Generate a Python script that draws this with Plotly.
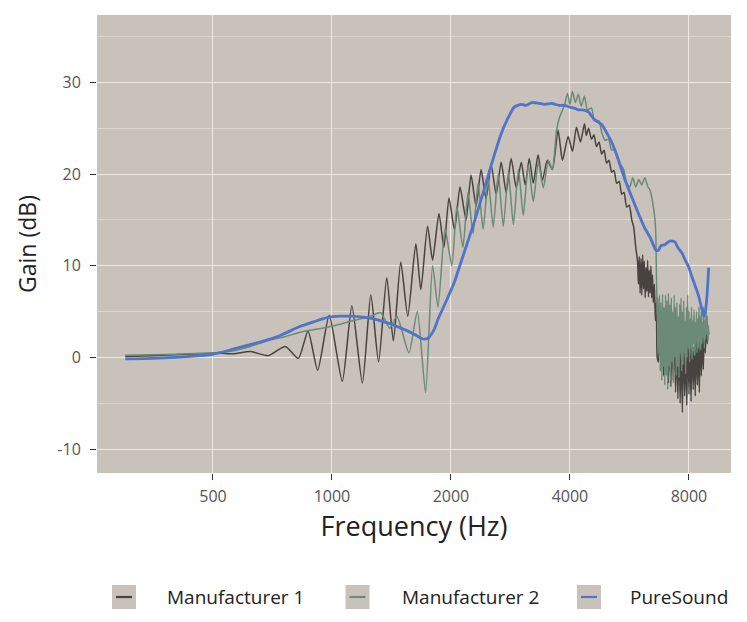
import plotly.graph_objects as go

# ---------------- data ----------------
m1_freq = [300, 350, 400, 463, 500, 562, 621, 690, 762, 822, 870, 920, 984, 1062, 1123, 1194,
           1254, 1312, 1376, 1430, 1493, 1555, 1630, 1678, 1745, 1797, 1865, 1920, 1977, 2042,
           2108, 2184, 2248, 2315, 2384, 2454, 2528, 2603, 2680, 2759, 2840, 2926, 3012, 3083,
           3156, 3231, 3322, 3406, 3507, 3611, 3733, 3829, 3958, 4059, 4155, 4254, 4353, 4400,
           4457, 4536, 4600, 4670, 4740, 4810, 4880, 4950, 5020, 5099, 5170, 5250, 5330, 5407,
           5480, 5567, 5650, 5734, 5800, 5870, 5930, 5960, 5990, 6020, 6050, 6080, 6110, 6140,
           6170, 6200, 6230, 6260, 6290, 6320, 6350, 6380, 6410, 6440, 6470, 6500, 6540, 6580,
           6620, 6650, 6700, 6750, 6800, 6850, 6900, 6950, 7000, 7050, 7100, 7150, 7200, 7250,
           7300, 7350, 7400, 7450, 7500, 7550, 7600, 7650, 7700, 7750, 7800, 7850, 7900, 7950,
           8000, 8050, 8100, 8150, 8200, 8250, 8300, 8350, 8400, 8450, 8500, 8550, 8600, 8650,
           8700, 8750, 8800, 8850, 8900, 8950, 8980]
m1_gain = [0.1, 0.2, 0.3, 0.4, 0.5, 0.4, 0.65, 0.2, 1.2, -0.1, 2.9, -1.4, 4.6, -2.6, 5.65, -2.8,
           6.85, -0.5, 8.7, 1.8, 10.4, 4.5, 12.4, 7.4, 14.3, 10.6, 15.7, 12.0, 17.4, 13.9,
           18.6, 15.0, 19.9, 16.5, 20.5, 17.3, 21.0, 17.8, 21.3, 18.0, 21.7, 18.5, 21.3, 18.8,
           21.7, 19.0, 22.1, 19.3, 21.5, 20.5, 24.8, 21.5, 24.1, 22.5, 25.1, 23.5, 25.5, 24.2,
           25.0, 23.8, 24.3, 23.0, 23.5, 22.2, 22.6, 21.2, 21.5, 20.2, 20.4, 19.0, 19.2, 17.8,
           18.0, 16.4, 16.6, 15.0, 14.2, 12.0, 10.5, 8.0, 11.0, 7.0, 10.8, 6.8, 11.2, 7.5,
           10.5, 6.5, 9.8, 7.2, 10.6, 6.6, 9.5, 7.0, 10.0, 6.5, 9.0, 6.0, 8.0, 4.0,
           6.0, 0.0, -0.5, 4.5, -1.0, 3.8, -2.0, 4.2, -1.5, 3.0, -2.8, 3.5, -3.2, 2.5,
           -2.5, 4.0, -3.8, 2.0, -4.5, 3.0, -5.0, 1.5, -6.0, 2.8, -4.2, 1.0, -5.2, 3.2,
           -4.0, 1.8, -4.8, 2.5, -3.5, 1.2, -4.2, 2.8, -3.0, 1.5, -3.8, 3.0, -2.0, 2.2,
           -1.3, 3.5, 0.5, 4.0, 1.5, 3.0, 2.5]

m2_freq = [300, 350, 400, 463, 500, 562, 621, 684, 750, 832, 920, 1000, 1114, 1254, 1328, 1400,
           1460, 1565, 1644, 1725, 1797, 1855, 1932, 2010, 2070, 2144, 2209, 2275, 2342, 2412,
           2484, 2558, 2634, 2713, 2794, 2877, 2963, 3048, 3138, 3231, 3327, 3426, 3528, 3611,
           3700, 3766, 3874, 3942, 4000, 4059, 4130, 4200, 4272, 4353, 4430, 4536, 4614, 4735,
           4810, 4900, 5010, 5099, 5190, 5340, 5470, 5567, 5668, 5768, 5870, 5975, 6076, 6186,
           6300, 6370, 6520, 6590, 6620, 6650, 6680, 6710, 6740, 6770, 6800, 6830, 6860, 6890,
           6920, 6950, 6980, 7010, 7040, 7070, 7100, 7130, 7160, 7190, 7220, 7250, 7280, 7310,
           7340, 7370, 7400, 7430, 7460, 7490, 7520, 7550, 7580, 7610, 7640, 7670, 7700, 7730,
           7760, 7790, 7820, 7850, 7880, 7910, 7940, 7970, 8000, 8030, 8060, 8090, 8120, 8150,
           8180, 8210, 8240, 8270, 8300, 8330, 8360, 8390, 8420, 8450, 8480, 8510, 8540, 8570,
           8600, 8630, 8660, 8690, 8720, 8750, 8780, 8810, 8840, 8870, 8900, 8930, 8960, 8980]
m2_gain = [0.25, 0.3, 0.35, 0.45, 0.5, 0.7, 1.2, 1.8, 2.2, 2.75, 3.1, 3.4, 3.95, 4.5, 4.9, 3.2,
           4.5, 0.5, 5.0, -3.8, 10.0, 5.5, 14.0, 10.0, 16.5, 12.0, 18.0, 13.5, 19.0, 14.0,
           19.5, 14.2, 20.0, 14.3, 20.2, 14.5, 20.5, 15.5, 21.0, 17.0, 21.3, 18.5, 21.5, 20.5,
           24.8, 26.2, 27.5, 28.8, 27.6, 29.0, 27.8, 28.7, 27.4, 28.5, 27.0, 27.2, 25.8, 25.8,
           24.6, 23.7, 23.8, 22.6, 22.8, 21.2, 20.5, 19.0, 18.6, 19.6, 18.6, 19.4, 18.8, 19.6,
           18.6, 18.3, 16.1, 13.9, 9.0, 4.0, 6.5, 0.5, 6.8, -1.5, 6.0, -2.5, 6.9, -1.0,
           5.5, -3.0, 6.8, -2.0, 6.2, -3.5, 7.0, -1.0, 5.8, -2.5, 6.5, -0.5, 5.0, -2.8,
           6.8, 0.0, 5.5, -2.0, 6.0, -1.0, 4.5, -2.2, 5.8, 0.5, 6.5, -1.5, 5.0, -0.8,
           6.2, 0.5, 4.0, -1.8, 5.5, 0.0, 6.8, 1.0, 5.0, -0.5, 4.2, 1.0, 5.5, -0.2,
           4.0, 1.5, 5.2, 0.2, 3.8, 1.8, 5.0, 0.5, 4.2, 1.0, 5.5, 2.0, 4.5, 0.8,
           5.0, 1.5, 3.8, 2.2, 5.5, 1.0, 4.0, 2.0, 5.0, 2.5, 4.5, 1.8, 3.5, 2.5]

ps_freq = [300, 350, 400, 463, 500, 562, 621, 684, 740, 832, 900, 972, 1050, 1114, 1200, 1275,
           1350, 1420, 1493, 1553, 1620, 1680, 1718, 1760, 1811, 1860, 1920, 2035, 2158, 2288,
           2426, 2479, 2580, 2680, 2780, 2892, 3012, 3100, 3200, 3322, 3450, 3600, 3750, 3874,
           4000, 4100, 4196, 4300, 4450, 4600, 4810, 5000, 5100, 5300, 5500, 5734, 5962, 6186,
           6400, 6600, 6700, 6800, 6950, 7150, 7371, 7500, 7680, 7850, 7984, 8140, 8300, 8466,
           8600, 8718, 8800, 8887, 8940, 8975]
ps_gain = [-0.15, -0.1, 0.0, 0.2, 0.35, 0.9, 1.4, 1.9, 2.4, 3.4, 3.9, 4.35, 4.5, 4.5, 4.4, 4.2,
           3.9, 3.6, 3.2, 2.9, 2.5, 2.1, 2.0, 2.2, 3.0, 4.3, 5.6, 8.1, 11.4, 14.7,
           18.3, 19.7, 22.2, 24.4, 26.0, 27.3, 27.6, 27.5, 27.8, 27.75, 27.6, 27.7, 27.5, 27.5,
           27.3, 27.2, 27.0, 27.0, 26.8, 26.0, 25.4, 24.2, 23.5, 21.6, 19.5, 17.5, 15.7, 14.1,
           13.0, 11.7, 11.7, 12.2, 12.3, 12.7, 12.6, 12.0, 11.4, 10.5, 9.9, 8.8, 7.8, 6.7,
           5.5, 4.5, 5.0, 6.7, 8.5, 9.8]

series_names = ["Manufacturer 1", "Manufacturer 2", "PureSound"]
x_ticks = [500, 1000, 2000, 4000, 8000]
y_ticks = [-10, 0, 10, 20, 30]

# ---------------- styling ----------------
PANEL = "#c9c2bb"
GRID = "#eeeae6"
GRID_MINOR = "#dcd6d0"
colors = ["#48433f", "#6b8a77", "#4f74c9"]
widths = [1.5, 1.5, 2.8]
FONT = "Open Sans"

L, R, T, B = 89, 24, 7, 157
PW, PH = 747 - L - R, 622 - T - B

fig = go.Figure()
for name, fx, gy, c, w in zip(series_names, [m1_freq, m2_freq, ps_freq],
                              [m1_gain, m2_gain, ps_gain], colors, widths):
    fig.add_trace(go.Scatter(x=fx, y=gy, mode="lines", name=name, showlegend=False,
                             line=dict(color=c, width=w, shape="spline", smoothing=0.6)))

# custom legend: grey key boxes with a short line, plus text labels
legend_key_x = [116, 349.5, 581]     # figure px, key centres
legend_text_x = [157, 392, 620]      # figure px, text start
legend_y = 589                       # figure px, row centre
yk = (T + PH - legend_y) / PH
shapes = []
annotations = []
for name, c, kx, tx in zip(series_names, colors, legend_key_x, legend_text_x):
    xp = (kx - L) / PW
    shapes.append(dict(type="rect", xref="paper", yref="paper", xsizemode="pixel",
                       ysizemode="pixel", xanchor=xp, yanchor=yk, x0=-12, x1=12, y0=-12, y1=12,
                       fillcolor=PANEL, line=dict(width=0), layer="above"))
    shapes.append(dict(type="line", xref="paper", yref="paper", xsizemode="pixel",
                       ysizemode="pixel", xanchor=xp, yanchor=yk, x0=-8, x1=8, y0=0, y1=0,
                       line=dict(color=c, width=2.2), layer="above"))
    annotations.append(dict(text=name, xref="paper", yref="paper", x=(tx - L) / PW, y=yk,
                            xanchor="left", yanchor="middle", showarrow=False,
                            font=dict(size=19, color="#222222", family=FONT)))

fig.update_layout(
    width=747, height=622,
    margin=dict(l=L, r=R, t=T, b=B, autoexpand=False),
    paper_bgcolor="white",
    plot_bgcolor=PANEL,
    font=dict(family=FONT, color="#333333"),
    showlegend=False,
    shapes=shapes,
    annotations=annotations,
)
fig.update_xaxes(
    type="log", range=[2.4056, 4.0095], automargin=False,
    tickvals=x_ticks, ticktext=[str(v) for v in x_ticks],
    showgrid=True, gridcolor=GRID, gridwidth=1.3,
    ticks="outside", ticklen=6, tickcolor="#333333", tickwidth=1.3,
    tickfont=dict(size=16, color="#555555"), ticklabelstandoff=3,
    title=dict(text="Frequency (Hz)", font=dict(size=27, color="#222222"), standoff=8),
    zeroline=False, showline=False,
)
fig.update_yaxes(
    range=[-12.6, 37.35], automargin=False,
    tickvals=y_ticks, ticktext=[str(v) for v in y_ticks],
    showgrid=True, gridcolor=GRID, gridwidth=1.3,
    minor=dict(dtick=5, tick0=0, showgrid=True, gridcolor=GRID_MINOR, gridwidth=0.7, ticks=""),
    ticks="outside", ticklen=6, tickcolor="#333333", tickwidth=1.3,
    tickfont=dict(size=16, color="#555555"), ticklabelstandoff=6,
    title=dict(text="Gain (dB)", font=dict(size=23, color="#222222"), standoff=14),
    zeroline=False, showline=False,
)

fig.write_html("out.html")
